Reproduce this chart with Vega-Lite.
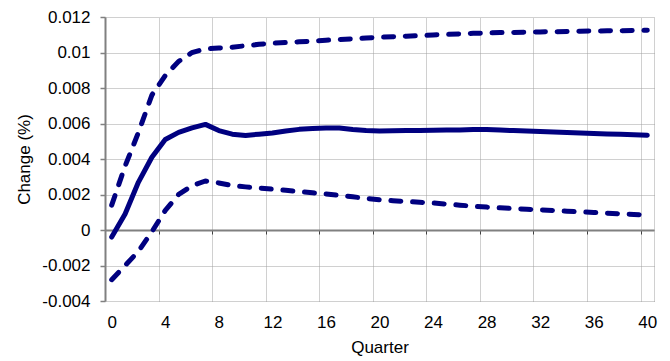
{
  "$schema": "https://vega.github.io/schema/vega-lite/v6.json",
  "width": 549,
  "height": 284,
  "autosize": "none",
  "padding": {"left": 105, "top": 17, "right": 16, "bottom": 60},
  "background": "white",
  "config": {
    "view": {"stroke": null},
    "font": "Liberation Sans",
    "axis": {
      "labelFont": "Liberation Sans",
      "titleFont": "Liberation Sans",
      "labelFontSize": 17,
      "titleFontSize": 17,
      "titleFontWeight": "normal",
      "labelColor": "#000000",
      "titleColor": "#000000",
      "labelFlush": false,
      "labelOverlap": false,
      "gridColor": "#a0a0a0",
      "gridDash": [1, 1],
      "gridWidth": 1
    }
  },
  "data": {
    "values": [
      {"q": 0, "s": "mid", "v": -0.0004}, {"q": 1, "s": "mid", "v": 0.0009}, {"q": 2, "s": "mid", "v": 0.0027},
      {"q": 3, "s": "mid", "v": 0.0041}, {"q": 4, "s": "mid", "v": 0.0051}, {"q": 5, "s": "mid", "v": 0.0055},
      {"q": 6, "s": "mid", "v": 0.00575}, {"q": 7, "s": "mid", "v": 0.00595}, {"q": 8, "s": "mid", "v": 0.0056},
      {"q": 9, "s": "mid", "v": 0.0054}, {"q": 10, "s": "mid", "v": 0.00533}, {"q": 11, "s": "mid", "v": 0.0054},
      {"q": 12, "s": "mid", "v": 0.00547}, {"q": 13, "s": "mid", "v": 0.00558}, {"q": 14, "s": "mid", "v": 0.00567},
      {"q": 15, "s": "mid", "v": 0.00572}, {"q": 16, "s": "mid", "v": 0.00575}, {"q": 17, "s": "mid", "v": 0.00575},
      {"q": 18, "s": "mid", "v": 0.00566}, {"q": 19, "s": "mid", "v": 0.0056}, {"q": 20, "s": "mid", "v": 0.00558},
      {"q": 21, "s": "mid", "v": 0.00559}, {"q": 22, "s": "mid", "v": 0.0056}, {"q": 23, "s": "mid", "v": 0.00561},
      {"q": 24, "s": "mid", "v": 0.00562}, {"q": 25, "s": "mid", "v": 0.00563}, {"q": 26, "s": "mid", "v": 0.00564},
      {"q": 27, "s": "mid", "v": 0.00566}, {"q": 28, "s": "mid", "v": 0.00566}, {"q": 29, "s": "mid", "v": 0.00563},
      {"q": 30, "s": "mid", "v": 0.0056}, {"q": 31, "s": "mid", "v": 0.00558}, {"q": 32, "s": "mid", "v": 0.00555},
      {"q": 33, "s": "mid", "v": 0.00552}, {"q": 34, "s": "mid", "v": 0.00549}, {"q": 35, "s": "mid", "v": 0.00546},
      {"q": 36, "s": "mid", "v": 0.00543}, {"q": 37, "s": "mid", "v": 0.00541}, {"q": 38, "s": "mid", "v": 0.00539},
      {"q": 39, "s": "mid", "v": 0.00537}, {"q": 40, "s": "mid", "v": 0.00534},

      {"q": 0, "s": "hi", "v": 0.0014}, {"q": 1, "s": "hi", "v": 0.0036}, {"q": 2, "s": "hi", "v": 0.0055},
      {"q": 3, "s": "hi", "v": 0.0076}, {"q": 4, "s": "hi", "v": 0.0087}, {"q": 5, "s": "hi", "v": 0.0095},
      {"q": 6, "s": "hi", "v": 0.01}, {"q": 7, "s": "hi", "v": 0.0102}, {"q": 8, "s": "hi", "v": 0.01025},
      {"q": 9, "s": "hi", "v": 0.0103}, {"q": 10, "s": "hi", "v": 0.01038}, {"q": 11, "s": "hi", "v": 0.01046},
      {"q": 12, "s": "hi", "v": 0.01052}, {"q": 13, "s": "hi", "v": 0.01056}, {"q": 14, "s": "hi", "v": 0.0106},
      {"q": 15, "s": "hi", "v": 0.01064}, {"q": 16, "s": "hi", "v": 0.01069}, {"q": 17, "s": "hi", "v": 0.01073},
      {"q": 18, "s": "hi", "v": 0.01077}, {"q": 19, "s": "hi", "v": 0.01082}, {"q": 20, "s": "hi", "v": 0.01086},
      {"q": 21, "s": "hi", "v": 0.01089}, {"q": 22, "s": "hi", "v": 0.01092}, {"q": 23, "s": "hi", "v": 0.01095},
      {"q": 24, "s": "hi", "v": 0.01099}, {"q": 25, "s": "hi", "v": 0.01102}, {"q": 26, "s": "hi", "v": 0.01105},
      {"q": 27, "s": "hi", "v": 0.01108}, {"q": 28, "s": "hi", "v": 0.0111}, {"q": 29, "s": "hi", "v": 0.01112},
      {"q": 30, "s": "hi", "v": 0.01113}, {"q": 31, "s": "hi", "v": 0.01115}, {"q": 32, "s": "hi", "v": 0.01116},
      {"q": 33, "s": "hi", "v": 0.01117}, {"q": 34, "s": "hi", "v": 0.01118}, {"q": 35, "s": "hi", "v": 0.0112},
      {"q": 36, "s": "hi", "v": 0.01121}, {"q": 37, "s": "hi", "v": 0.01122}, {"q": 38, "s": "hi", "v": 0.01123},
      {"q": 39, "s": "hi", "v": 0.01124}, {"q": 40, "s": "hi", "v": 0.01125},

      {"q": 0, "s": "lo", "v": -0.0028}, {"q": 1, "s": "lo", "v": -0.002}, {"q": 2, "s": "lo", "v": -0.0012},
      {"q": 3, "s": "lo", "v": -0.0001}, {"q": 4, "s": "lo", "v": 0.0011}, {"q": 5, "s": "lo", "v": 0.002},
      {"q": 6, "s": "lo", "v": 0.0025}, {"q": 7, "s": "lo", "v": 0.00276}, {"q": 8, "s": "lo", "v": 0.00265},
      {"q": 9, "s": "lo", "v": 0.0025}, {"q": 10, "s": "lo", "v": 0.00243}, {"q": 11, "s": "lo", "v": 0.00237},
      {"q": 12, "s": "lo", "v": 0.0023}, {"q": 13, "s": "lo", "v": 0.00224}, {"q": 14, "s": "lo", "v": 0.00217},
      {"q": 15, "s": "lo", "v": 0.0021}, {"q": 16, "s": "lo", "v": 0.00203}, {"q": 17, "s": "lo", "v": 0.00195},
      {"q": 18, "s": "lo", "v": 0.00187}, {"q": 19, "s": "lo", "v": 0.00178}, {"q": 20, "s": "lo", "v": 0.0017},
      {"q": 21, "s": "lo", "v": 0.00165}, {"q": 22, "s": "lo", "v": 0.00161}, {"q": 23, "s": "lo", "v": 0.00156},
      {"q": 24, "s": "lo", "v": 0.00152}, {"q": 25, "s": "lo", "v": 0.00146}, {"q": 26, "s": "lo", "v": 0.0014},
      {"q": 27, "s": "lo", "v": 0.00134}, {"q": 28, "s": "lo", "v": 0.00129}, {"q": 29, "s": "lo", "v": 0.00125},
      {"q": 30, "s": "lo", "v": 0.00121}, {"q": 31, "s": "lo", "v": 0.00117}, {"q": 32, "s": "lo", "v": 0.00113},
      {"q": 33, "s": "lo", "v": 0.0011}, {"q": 34, "s": "lo", "v": 0.00106}, {"q": 35, "s": "lo", "v": 0.00102},
      {"q": 36, "s": "lo", "v": 0.00099}, {"q": 37, "s": "lo", "v": 0.00095}, {"q": 38, "s": "lo", "v": 0.00091},
      {"q": 39, "s": "lo", "v": 0.00088}, {"q": 40, "s": "lo", "v": 0.00084}
    ]
  },
  "encoding": {
    "y": {
      "field": "v",
      "type": "quantitative",
      "scale": {"domain": [-0.004, 0.012], "nice": false, "zero": false},
      "axis": {
        "title": "Change (%)",
        "values": [-0.004, -0.002, 0, 0.002, 0.004, 0.006, 0.008, 0.01, 0.012],
        "labelExpr": "'' + datum.value",
        "grid": true,
        "domainColor": "#808080",
        "domainWidth": 2,
        "tickColor": "#808080",
        "tickWidth": 1.5,
        "tickSize": 5,
        "labelPadding": 10,
        "titlePadding": 8
      }
    }
  },
  "layer": [
    {
      "transform": [{"filter": "datum.s === 'mid'"}],
      "mark": {"type": "line", "color": "#000080", "strokeWidth": 5, "strokeCap": "round", "strokeJoin": "round"},
      "encoding": {
        "x": {
          "field": "q",
          "type": "quantitative",
          "scale": {"domain": [-0.5, 40.5], "nice": false, "zero": false},
          "axis": {
            "orient": "bottom",
            "title": "Quarter",
            "values": [0, 4, 8, 12, 16, 20, 24, 28, 32, 36, 40],
            "grid": false,
            "ticks": false,
            "domain": false,
            "labelPadding": 13,
            "titlePadding": 9
          }
        }
      }
    },
    {
      "transform": [{"filter": "datum.s === 'hi'"}],
      "mark": {"type": "line", "color": "#000080", "strokeWidth": 5, "strokeCap": "round", "strokeDash": [10, 11.7]},
      "encoding": {
        "x": {
          "field": "q",
          "type": "quantitative",
          "axis": {
            "orient": "top",
            "title": null,
            "values": [3.5, 7.5, 11.5, 15.5, 19.5, 23.5, 27.5, 31.5, 35.5, 39.5, 40.5],
            "grid": true,
            "labels": false,
            "ticks": false,
            "domain": false
          }
        }
      }
    },
    {
      "transform": [{"filter": "datum.s === 'lo'"}],
      "mark": {"type": "line", "color": "#000080", "strokeWidth": 5, "strokeCap": "round", "strokeDash": [10, 11.7]},
      "encoding": {
        "x": {
          "field": "q",
          "type": "quantitative",
          "axis": {
            "orient": "bottom",
            "offset": -71,
            "title": null,
            "values": [3.5, 7.5, 11.5, 15.5, 19.5, 23.5, 27.5, 31.5, 35.5, 39.5],
            "grid": false,
            "labels": false,
            "ticks": true,
            "tickSize": 4,
            "tickColor": "#404040",
            "tickWidth": 1,
            "domain": true,
            "domainColor": "#808080",
            "domainWidth": 2
          }
        }
      }
    }
  ],
  "resolve": {"axis": {"x": "independent"}}
}
